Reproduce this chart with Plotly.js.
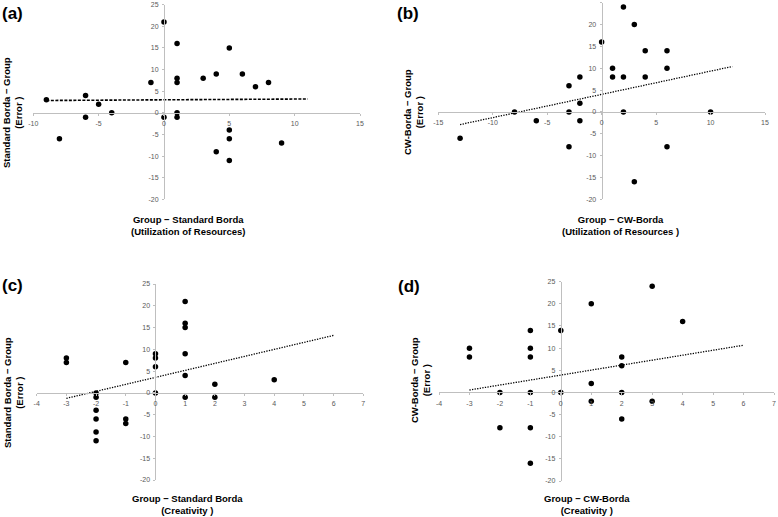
<!DOCTYPE html>
<html><head><meta charset="utf-8">
<script src="https://cdn.plot.ly/plotly-3.0.1.min.js"></script>
<style>body{margin:0;background:#fff}#chart{width:778px;height:517px}</style>
</head><body><div id="chart"></div>
<script>
// ---- Data ----
// (a) Utilization of Resources: Group - Standard Borda vs Standard Borda - Group (Error)
const aX = [-9,-8,-6,-6,-5,-4,-1,0,0,1,1,1,1,1,3,4,4,5,5,5,5,6,7,8,9];
const aY = [3,-6,4,-1,2,0,7,21,-1,16,8,7,0,-1,8,9,-9,15,-4,-6,-11,9,6,7,-7];
const aTrendX = [-9, 11];
const aTrendY = [2.85, 3.2];
// (b) Utilization of Resources: Group - CW-Borda vs CW-Borda - Group (Error)
const bX = [-13,-8,-6,-3,-3,-3,-2,-2,-2,0,1,1,2,2,2,3,3,4,4,6,6,6,10];
const bY = [-6,0,-2,6,0,-8,8,2,-2,16,10,8,24,8,0,20,-16,14,8,14,10,-8,0];
const bTrendX = [-13, 12];
const bTrendY = [-2.9, 10.4];
// (c) Creativity: Group - Standard Borda vs Standard Borda - Group (Error)
const cX = [-3,-3,-2,-2,-2,-2,-2,-2,-1,-1,-1,0,0,0,0,1,1,1,1,1,1,2,2,4];
const cY = [8,7,0,-1,-4,-6,-9,-11,7,-6,-7,9,8,6,0,21,16,15,9,4,-1,2,-1,3];
const cTrendX = [-3, 6];
const cTrendY = [-1.25, 13.2];
// (d) Creativity: Group - CW-Borda vs CW-Borda - Group (Error)
const dX = [-3,-3,-2,-2,-1,-1,-1,-1,-1,-1,0,0,1,1,1,2,2,2,2,3,3,4];
const dY = [10,8,0,-8,14,10,8,0,-8,-16,14,0,20,2,-2,8,6,0,-6,24,-2,16];
const dTrendX = [-3, 6];
const dTrendY = [0.55, 10.65];

const xTicksAB1 = [-10,-5,0,5,10,15];
const xLabelsAB1 = ["-10","-5","0","5","10","15"];
const xTicksB = [-15,-10,-5,0,5,10,15];
const xLabelsB = ["-15","-10","-5","0","5","10","15"];
const xTicksCD = [-4,-3,-2,-1,0,1,2,3,4,5,6,7];
const xLabelsCD = ["-4","-3","-2","-1","0","1","2","3","4","5","6","7"];
const yTicks = [-20,-15,-10,-5,0,5,10,15,20,25];
const yLabels = ["-20","-15","-10","-5","0","5","10","15","20","25"];

const panelLabels = ["(a)","(b)","(c)","(d)"];
const yTitles = ["Standard Borda − Group<br>(Error )","CW-Borda − Group<br>(Error )","Standard Borda − Group<br>(Error )","CW-Borda − Group<br>(Error )"];
const xTitles = ["Group − Standard Borda<br>(Utilization of Resources)","Group − CW-Borda<br>(Utilization of Resources )","Group − Standard Borda<br>(Creativity )","Group − CW-Borda<br>(Creativity )"];

// ---- Layout geometry (pixels) ----
const W = 778, H = 517;
const px = v => v / W, py = v => 1 - v / H;
const panels = [
  {xr:[-10,15], yr:[-20,25], L:33.3, R:360, T:4.7, B:199.3, xt:xTicksAB1, xl:xLabelsAB1,
   X:aX, Y:aY, TX:aTrendX, TY:aTrendY, dash:'dash', lab:[12,13], yt:[12,113], xtp:[188,225]},
  {xr:[-15,15], yr:[-20,25], L:438.3, R:765, T:2.7, B:199.3, xt:xTicksB, xl:xLabelsB,
   X:bX, Y:bY, TX:bTrendX, TY:bTrendY, dash:'dot', lab:[408,13], yt:[414,112], xtp:[620,225]},
  {xr:[-4,7], yr:[-20,25], L:36.7, R:363.3, T:284, B:480, xt:xTicksCD, xl:xLabelsCD,
   X:cX, Y:cY, TX:cTrendX, TY:cTrendY, dash:'dot', lab:[12,285], yt:[13,393], xtp:[187,504]},
  {xr:[-4,7], yr:[-20,25], L:439, R:774, T:281.7, B:481, xt:xTicksCD, xl:xLabelsCD,
   X:dX, Y:dY, TX:dTrendX, TY:dTrendY, dash:'dot', lab:[409,286], yt:[420,380], xtp:[587,504]}
];

const tickFont = {family:'Liberation Sans, Arial, sans-serif', size:7, color:'#595959'};
const titleFont = {family:'Liberation Sans, Arial, sans-serif', size:9.5, color:'#000'};
const traces = [], annotations = [];
const layout = {width:W, height:H, margin:{l:0,r:0,t:0,b:0}, showlegend:false,
  paper_bgcolor:'#fff', plot_bgcolor:'rgba(0,0,0,0)'};

panels.forEach((p, i) => {
  const n = i === 0 ? '' : String(i + 1);
  const xa = 'xaxis' + n, ya = 'yaxis' + n;
  const xPos0 = p.L + (0 - p.xr[0]) / (p.xr[1] - p.xr[0]) * (p.R - p.L);
  const yPos0 = p.T + (p.yr[1] - 0) / (p.yr[1] - p.yr[0]) * (p.B - p.T);
  layout[xa] = {domain:[px(p.L), px(p.R)], range:p.xr, anchor:'free', position:py(yPos0),
    showgrid:false, zeroline:false, showline:true, linecolor:'#bfbfbf', linewidth:1,
    ticks:'outside', ticklen:2, tickcolor:'#bfbfbf', tickwidth:1,
    tickmode:'array', tickvals:p.xt, ticktext:p.xl, tickfont:tickFont,
    ticklabelstandoff:2, fixedrange:true};
  layout[ya] = {domain:[py(p.B), py(p.T)], range:p.yr, anchor:'free', position:px(xPos0),
    showgrid:false, zeroline:false, showline:true, linecolor:'#bfbfbf', linewidth:1,
    ticks:'outside', ticklen:2, tickcolor:'#bfbfbf', tickwidth:1,
    tickmode:'array', tickvals:yTicks, ticktext:yLabels, tickfont:tickFont,
    ticklabelstandoff:2, fixedrange:true};
  const xr = 'x' + n, yr = 'y' + n;
  traces.push({type:'scatter', mode:'lines', x:p.TX, y:p.TY, xaxis:xr, yaxis:yr,
    line:{color:'#000', width:p.dash === 'dash' ? 1.6 : 1.3, dash:p.dash === 'dash' ? '3px,1.5px' : '1.3px,1.3px'},
    hoverinfo:'skip'});
  traces.push({type:'scatter', mode:'markers', x:p.X, y:p.Y, xaxis:xr, yaxis:yr,
    marker:{color:'#000', size:5.5}});
  annotations.push({xref:'paper', yref:'paper', x:px(p.lab[0]), y:py(p.lab[1]), text:'<b>'+panelLabels[i]+'</b>',
    showarrow:false, xanchor:'center', yanchor:'middle', font:{family:'Liberation Sans, Arial, sans-serif', size:17, color:'#000'}});
  annotations.push({xref:'paper', yref:'paper', x:px(p.yt[0]), y:py(p.yt[1]), text:'<b>'+yTitles[i]+'</b>',
    textangle:-90, showarrow:false, xanchor:'center', yanchor:'middle', font:titleFont});
  annotations.push({xref:'paper', yref:'paper', x:px(p.xtp[0]), y:py(p.xtp[1]), text:'<b>'+xTitles[i]+'</b>',
    showarrow:false, xanchor:'center', yanchor:'middle', font:titleFont});
});
layout.annotations = annotations;
Plotly.newPlot('chart', traces, layout, {displayModeBar:false, staticPlot:true});
</script></body></html>
